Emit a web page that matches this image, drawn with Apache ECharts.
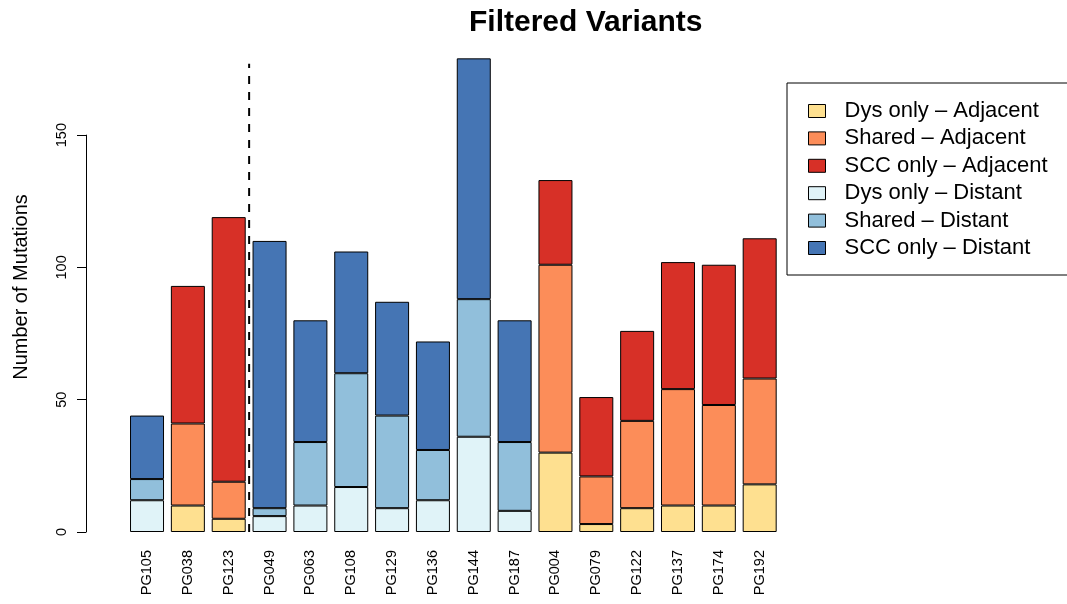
<!DOCTYPE html>
<html>
<head>
<meta charset="utf-8">
<script src="https://cdn.jsdelivr.net/npm/echarts@6/dist/echarts.min.js"></script>
<style>
html,body{margin:0;padding:0;background:#fff;}
#c{width:1067px;height:604px;}
</style>
</head>
<body>
<div id="c"></div>
<script>
const categories = ['PG105','PG038','PG123','PG049','PG063','PG108','PG129','PG136','PG144','PG187','PG004','PG079','PG122','PG137','PG174','PG192'];
const seriesNames = ['Dys only \u2013 Adjacent','Shared \u2013 Adjacent','SCC only \u2013 Adjacent','Dys only \u2013 Distant','Shared \u2013 Distant','SCC only \u2013 Distant'];
const dysAdjacent    = [0,10,5,0,0,0,0,0,0,0,30,3,9,10,10,18];
const sharedAdjacent = [0,31,14,0,0,0,0,0,0,0,71,18,33,44,38,40];
const sccAdjacent    = [0,52,100,0,0,0,0,0,0,0,32,30,34,48,53,53];
const dysDistant     = [12,0,0,6,10,17,9,12,36,8,0,0,0,0,0,0];
const sharedDistant  = [8,0,0,3,24,43,35,19,52,26,0,0,0,0,0,0];
const sccDistant     = [24,0,0,101,46,46,43,41,91,46,0,0,0,0,0,0];
const yTicks = [0,50,100,150];
const dividerAt = 3;      // boundary index between PG123 and PG049
const dividerTop = 177;
const colors = ['#FEE090','#FC8D59','#D73027','#E0F3F8','#91BFDB','#4575B4'];

const FONT = '"Liberation Sans", Arial, Helvetica, sans-serif';
const values = [dysAdjacent, sharedAdjacent, sccAdjacent, dysDistant, sharedDistant, sccDistant];

const barSeries = values.map((arr, i) => ({
  name: seriesNames[i],
  type: 'bar',
  stack: 'total',
  xAxisIndex: 0,
  yAxisIndex: 0,
  barWidth: 34,
  data: arr.map(v => v === 0 ? '-' : v),
  itemStyle: { color: colors[i], borderColor: '#000', borderWidth: 1 },
  emphasis: { disabled: true },
  animation: false
}));

const chart = echarts.init(document.getElementById('c'), null, { renderer: 'canvas' });
chart.setOption({
  animation: false,
  backgroundColor: '#fff',
  title: {
    text: 'Filtered Variants',
    left: 464,
    top: 3,
    textStyle: { fontFamily: FONT, fontSize: 30, fontWeight: 'bold', color: '#000' }
  },
  legend: {
    orient: 'vertical',
    left: 787,
    top: 83,
    padding: [17, 30, 16, 21],
    itemWidth: 17,
    itemHeight: 13,
    itemGap: 5.4,
    borderColor: '#000',
    borderWidth: 1,
    borderRadius: 0,
    icon: 'rect',
    data: seriesNames,
    itemStyle: { borderColor: '#000', borderWidth: 1 },
    textStyle: { fontFamily: FONT, fontSize: 22, lineHeight: 22, color: '#000', padding: [0, 0, 0, 14] },
    selectedMode: false
  },
  grid: [
    { left: 126.6, width: 653.5, top: 55.7, bottom: 72 },
    { left: 86, width: 1, top: 135.1, bottom: 72 }
  ],
  xAxis: [
    {
      type: 'category', gridIndex: 0, data: categories,
      axisLine: { show: false }, axisTick: { show: false },
      axisLabel: { rotate: 90, margin: 18, fontFamily: FONT, fontSize: 14.5, color: '#000', interval: 0 }
    },
    { type: 'value', gridIndex: 0, min: 0, max: categories.length, show: false },
    { type: 'value', gridIndex: 1, min: 0, max: 1, show: false }
  ],
  yAxis: [
    { type: 'value', gridIndex: 0, min: 0, max: 180, show: false, splitLine: { show: false } },
    {
      type: 'value', gridIndex: 1, min: yTicks[0], max: yTicks[yTicks.length - 1], interval: 50,
      axisLine: { show: true, lineStyle: { color: '#000', width: 1 } },
      axisTick: { show: true, length: 9, lineStyle: { color: '#000' } },
      axisLabel: { rotate: 90, margin: 17, fontFamily: FONT, fontSize: 14.5, color: '#000' },
      splitLine: { show: false }
    }
  ],
  graphic: [
    {
      type: 'text', x: 21, y: 287, rotation: Math.PI / 2,
      style: { text: 'Number of Mutations', fontFamily: FONT, fontSize: 20, fill: '#000', align: 'center', verticalAlign: 'middle' }
    }
  ],
  series: barSeries.concat([{
    type: 'line',
    xAxisIndex: 1,
    yAxisIndex: 0,
    data: [[dividerAt, 0], [dividerAt, dividerTop]],
    symbol: 'none',
    lineStyle: { color: '#000', width: 2, type: [8, 8] },
    silent: true,
    animation: false
  }])
});
</script>
</body>
</html>
